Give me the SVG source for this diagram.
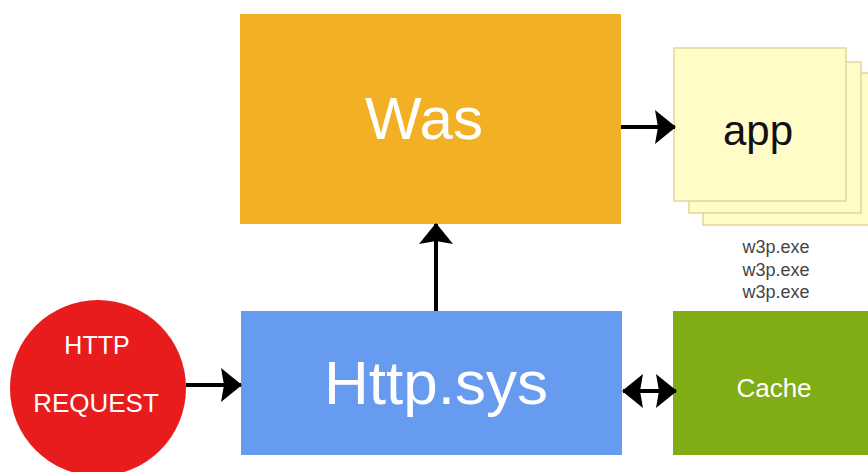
<svg xmlns="http://www.w3.org/2000/svg" width="868" height="472" viewBox="0 0 868 472">
<style>
.lbl{font-family:"Liberation Sans",Arial,sans-serif;text-anchor:middle}
.w{fill:#ffffff}
.page{fill:#FFFCC8;stroke:#E3D69A;stroke-width:1.5}
.conn{stroke:#000;stroke-width:4;fill:none}
.small{font-size:18px;fill:#444}
</style>
<defs>
<marker id="ah" markerUnits="userSpaceOnUse" markerWidth="22" markerHeight="36" viewBox="0 0 22 36" refX="20" refY="18" orient="auto-start-reverse">
<path d="M0,1 L21,18 L0,35 L3,18 Z" fill="#000"/>
</marker>
</defs>
<rect width="868" height="472" fill="#fff"/>
<g id="was">
<rect x="240" y="14" width="381" height="210" fill="#F2B124"/>
<text class="lbl w" x="424" y="139" font-size="60">Was</text>
</g>
<g id="app">
<rect class="page" x="703" y="73" width="175" height="152"/>
<rect class="page" x="689" y="62" width="172" height="151"/>
<rect class="page" x="674" y="48" width="172" height="153"/>
<text class="lbl" x="758" y="145" font-size="42" fill="#111">app</text>
<text class="lbl small" x="776" y="253">w3p.exe</text>
<text class="lbl small" x="776" y="276">w3p.exe</text>
<text class="lbl small" x="776" y="298">w3p.exe</text>
</g>
<g id="httpsys">
<rect x="241" y="311" width="381" height="144" fill="#679BEF"/>
<text class="lbl w" x="436" y="404" font-size="62">Http.sys</text>
</g>
<g id="cache">
<rect x="673" y="311" width="200" height="144" fill="#80AC16"/>
<text class="lbl w" x="774" y="397" font-size="26">Cache</text>
</g>
<g id="request">
<circle cx="98" cy="388" r="88" fill="#E81C1C"/>
<text class="lbl w" x="97" y="354" font-size="25">HTTP</text>
<text class="lbl w" x="96" y="412" font-size="26">REQUEST</text>
</g>
<g id="connectors">
<line class="conn" x1="186" y1="385" x2="241" y2="385" marker-end="url(#ah)"/>
<line class="conn" x1="436" y1="311" x2="436" y2="224" marker-end="url(#ah)"/>
<line class="conn" x1="621" y1="127" x2="675" y2="127" marker-end="url(#ah)"/>
<line class="conn" x1="623" y1="391" x2="676" y2="391" marker-start="url(#ah)" marker-end="url(#ah)"/>
</g>
</svg>
